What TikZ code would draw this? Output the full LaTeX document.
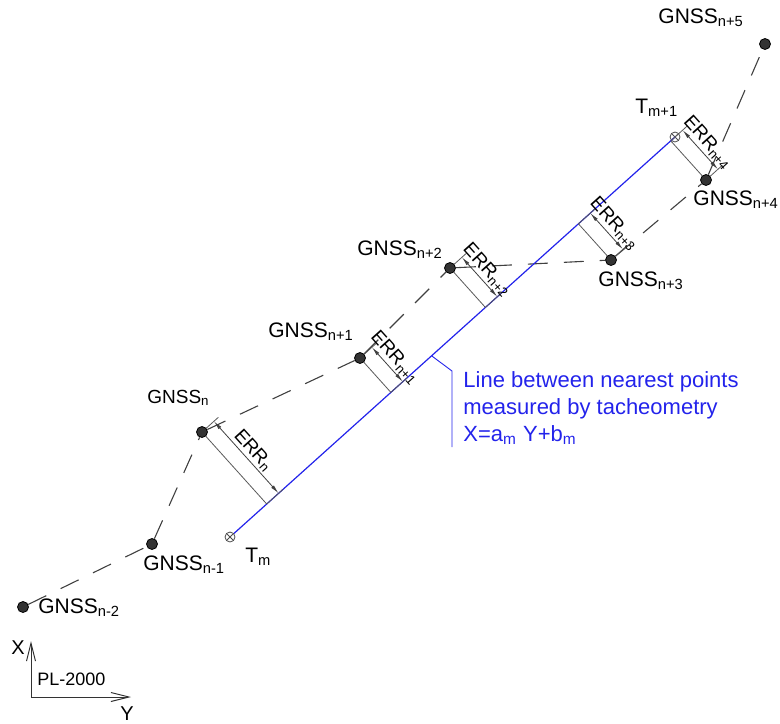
\documentclass[tikz,border=0pt]{standalone}
\usepackage{fontspec}
\setmainfont{Liberation Sans}
\usetikzlibrary{calc,arrows.meta}
\definecolor{tachblue}{RGB}{35,35,235}
\tikzset{
  gnss/.style={circle, fill=black!80, draw=black, inner sep=0pt, minimum size=5.5pt},
  tacho/.style={circle, draw=black!70, line width=0.4pt, inner sep=0pt, minimum size=5pt,
    path picture={\draw[black!70, line width=0.4pt]
      (path picture bounding box.north west) -- (path picture bounding box.south east)
      (path picture bounding box.north east) -- (path picture bounding box.south west);}},
  ptlabel/.style={anchor=base west, inner sep=0pt, font=\fontsize{10.5}{12}\selectfont},
  track/.style={draw=black!75, line width=0.55pt, dash pattern=on 10pt off 8pt},
  extline/.style={draw=black!65, line width=0.4pt},
  dimline/.style={draw=black!75, line width=0.4pt, <->, >={Latex[length=4.5pt,width=1.8pt]}},
  errlabel/.style={above, sloped, inner sep=1pt, font=\fontsize{9.5}{11}\selectfont},
  axis/.style={draw=black!80, line width=0.5pt, <->, >={Straight Barb[length=9pt,width=4.5pt]}}
}
\begin{document}
\begin{tikzpicture}[x=0.5pt, y=-0.5pt]
\useasboundingbox (0,0) rectangle (780,723);

% GNSS points
\node[gnss] (gm2) at (23,607) {};
\node[gnss] (gm1) at (152,544) {};
\node[gnss] (g0)  at (202,432) {};
\node[gnss] (g1)  at (360,358) {};
\node[gnss] (g2)  at (450,268) {};
\node[gnss] (g3)  at (611,260) {};
\node[gnss] (g4)  at (706,180) {};
\node[gnss] (g5)  at (765,44) {};

% tacheometry points
\node[tacho] (Tm)  at (230,537) {};
\node[tacho] (Tm1) at (675,137) {};

\foreach \a/\b in {gm2/gm1,gm1/g0,g0/g1,g1/g2,g2/g3,g3/g4,g4/g5}
  \draw[track] (\a) -- (\b);

\draw[tachblue, line width=0.6pt] (Tm) -- (Tm1.center);

\def\ErrDim#1#2{
\coordinate (#1f)  at ($(Tm)!(#1)!(Tm1)$);
\coordinate (#1fd) at ($(#1f)!-8pt!(Tm)$);
\coordinate (#1fe) at ($(#1f)!-11pt!(Tm)$);
\coordinate (#1d)  at ($(#1)+(#1fd)-(#1f)$);
\coordinate (#1e)  at ($(#1)+(#1fe)-(#1f)$);
\draw[extline] (#1) -- (#1f);
\draw[extline] (#1) -- (#1e);
\draw[extline] (#1f) -- (#1fe);
\draw[dimline] (#1d) -- node[errlabel] {ERR\textsubscript{#2}} (#1fd);
}

\ErrDim{g0}{n}
\ErrDim{g1}{n+1}
\ErrDim{g2}{n+2}
\ErrDim{g3}{n+3}
\ErrDim{g4}{n+4}

% labels
\node[ptlabel] (lg5)  at (658,23)  {GNSS\textsubscript{n+5}};
\node[ptlabel] (lg4)  at (693,205) {GNSS\textsubscript{n+4}};
\node[ptlabel] (lg3)  at (598,286) {GNSS\textsubscript{n+3}};
\node[ptlabel] (lg2)  at (357,255) {GNSS\textsubscript{n+2}};
\node[ptlabel] (lg1)  at (268,337) {GNSS\textsubscript{n+1}};
\node[ptlabel, font=\fontsize{9.5}{11}\selectfont] (lg0) at (147,403) {GNSS\textsubscript{n}};
\node[ptlabel] (lgm1) at (143,570) {GNSS\textsubscript{n-1}};
\node[ptlabel] (lgm2) at (38,613)  {GNSS\textsubscript{n-2}};
\node[ptlabel] (lTm1) at (635,113) {T\textsubscript{m+1}};
\node[ptlabel] (lTm)  at (245,562) {T\textsubscript{m}};

% callout
\coordinate (cl) at ($(Tm)!0.453!(Tm1)$);
\coordinate (ck) at (452,371);
\coordinate (cb) at (452,447);
\draw[tachblue, line width=0.45pt] (cl) -- (ck) -- (cb);
\node[anchor=north west, align=left, inner sep=0pt, text=tachblue,
  font=\fontsize{11}{13.5}\selectfont] (note) at (463,371)
  {Line between nearest points\\measured by tacheometry\\X=a\textsubscript{m} Y+b\textsubscript{m}};

% coordinate system
\coordinate (O) at (31,697);
\coordinate (Xtip) at (31,641);
\coordinate (Ytip) at (131,697);
\draw[axis] (Xtip) -- (O) -- (Ytip);
\node[font=\fontsize{10}{12}\selectfont] (xl) at (18,648) {X};
\node[font=\fontsize{10}{12}\selectfont] (yl) at (127,714) {Y};
\node[anchor=west, inner sep=0pt, font=\fontsize{9}{11}\selectfont] (pl) at (37,679) {PL-2000};
\end{tikzpicture}
\end{document}
